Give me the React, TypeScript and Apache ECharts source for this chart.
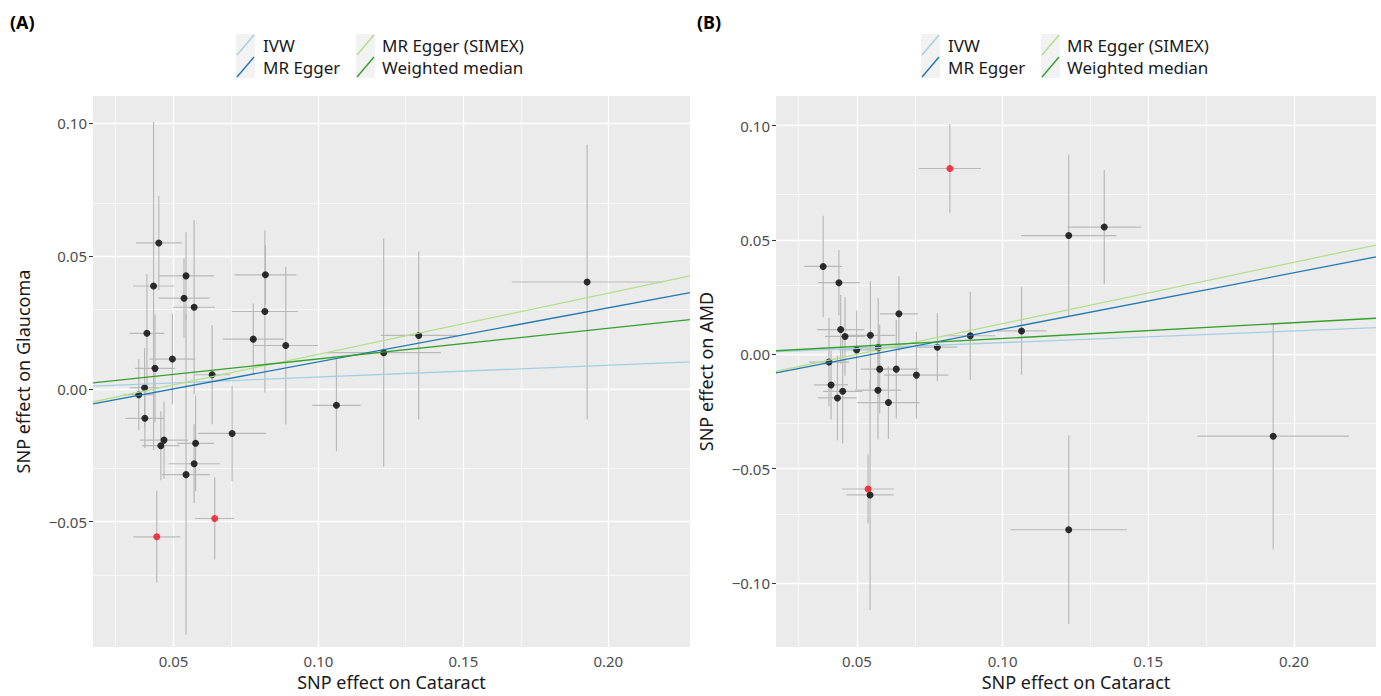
import React, { useEffect, useRef } from "react";
import * as echarts from "echarts";

const methods = ["IVW", "MR Egger", "MR Egger (SIMEX)", "Weighted median"];
const methodColors = ["#A6CEE3", "#1F78B4", "#B2DF8A", "#33A02C"];

const xTicks = [0.05, 0.1, 0.15, 0.2];
const xMinorTicks = [0.025, 0.075, 0.125, 0.175, 0.225];
const yTicksA = [-0.05, 0, 0.05, 0.1];
const yMinorTicksA = [-0.075, -0.025, 0.025, 0.075];
const yTicksB = [-0.1, -0.05, 0, 0.05, 0.1];
const yMinorTicksB = [-0.125, -0.075, -0.025, 0.025, 0.075];

const X_RANGE = [0.0222, 0.2282];
const Y_RANGE_A = [-0.0972, 0.1102];
const Y_RANGE_B = [-0.128, 0.1129];

// Panel A: Cataract -> Glaucoma
const cataractA = [0.0449, 0.0431, 0.0543, 0.0536, 0.0571, 0.0817, 0.0815, 0.0887, 0.0775, 0.0408, 0.0496, 0.0436, 0.0633, 0.04, 0.038, 0.0401, 0.1062, 0.0702, 0.0467, 0.0456, 0.0576, 0.0571, 0.0543, 0.0442, 0.0642, 0.1225, 0.1346, 0.1927];
const glaucoma = [0.0549, 0.0387, 0.0425, 0.0341, 0.0307, 0.0429, 0.0291, 0.0163, 0.0187, 0.0209, 0.0112, 0.0077, 0.0053, 0.0004, -0.0022, -0.0111, -0.0062, -0.0168, -0.0193, -0.0214, -0.0205, -0.0282, -0.0323, -0.0557, -0.0488, 0.0136, 0.0201, 0.0402];
const seCataractA = [0.0079, 0.0071, 0.0096, 0.0088, 0.0072, 0.0107, 0.0114, 0.0112, 0.0105, 0.006, 0.0079, 0.0069, 0.0062, 0.0052, 0.0052, 0.0067, 0.0083, 0.0117, 0.0083, 0.0065, 0.0064, 0.0089, 0.0083, 0.0081, 0.0067, 0.0197, 0.0131, 0.026];
const seGlaucoma = [0.0178, 0.0617, 0.0164, 0.0149, 0.0327, 0.0112, 0.0305, 0.0297, 0.0134, 0.0223, 0.0171, 0.0204, 0.0186, 0.0149, 0.0134, 0.0112, 0.0173, 0.018, 0.0145, 0.013, 0.018, 0.0149, 0.0602, 0.0173, 0.0154, 0.0429, 0.0316, 0.0517];
const outlierA = [0, 0, 0, 0, 0, 0, 0, 0, 0, 0, 0, 0, 0, 0, 0, 0, 0, 0, 0, 0, 0, 0, 0, 1, 1, 0, 0, 0];
const interceptA = [0, -0.0102, -0.01, -0.0003];
const slopeA = [0.0443, 0.2034, 0.23, 0.1155];

// Panel B: Cataract -> AMD
const cataractB = [0.0819, 0.0384, 0.0438, 0.0644, 0.0444, 0.0459, 0.0546, 0.0889, 0.1065, 0.0499, 0.0573, 0.0404, 0.0776, 0.0578, 0.0635, 0.0704, 0.0411, 0.0451, 0.0433, 0.0572, 0.0608, 0.0538, 0.0545, 0.1227, 0.1349, 0.1929, 0.1227];
const amd = [0.0812, 0.0384, 0.0313, 0.0177, 0.0108, 0.0078, 0.0083, 0.0081, 0.0102, 0.0019, 0.0029, -0.0034, 0.0031, -0.0065, -0.0065, -0.0091, -0.0134, -0.0162, -0.0191, -0.0157, -0.0211, -0.0589, -0.0615, 0.0519, 0.0556, -0.0358, -0.0767];
const seCataractB = [0.0107, 0.0065, 0.0071, 0.0065, 0.0081, 0.0069, 0.0086, 0.0086, 0.0086, 0.0062, 0.0086, 0.0069, 0.0069, 0.0065, 0.0076, 0.011, 0.0058, 0.0067, 0.0067, 0.0079, 0.0107, 0.0089, 0.0081, 0.0163, 0.0127, 0.026, 0.02];
const seAmd = [0.0194, 0.0222, 0.0142, 0.0164, 0.0151, 0.0172, 0.0237, 0.0192, 0.0192, 0.0172, 0.0216, 0.0194, 0.0149, 0.0194, 0.0216, 0.019, 0.0151, 0.0228, 0.0185, 0.0216, 0.0159, 0.0151, 0.0504, 0.0353, 0.025, 0.0494, 0.0412];
const outlierB = [1, 0, 0, 0, 0, 0, 0, 0, 0, 0, 0, 0, 0, 0, 0, 0, 0, 0, 0, 0, 0, 1, 0, 0, 0, 0, 0];
const interceptB = [0, -0.0136, -0.0134, 0];
const slopeB = [0.051, 0.246, 0.268, 0.069];

const FONT = "'Noto Sans', 'DejaVu Sans', sans-serif";

const fmt = (v: number) => (v < 0 ? "\u2212" + Math.abs(v).toFixed(2) : v.toFixed(2));

type Panel = {
  xs: number[]; ys: number[]; sx: number[]; sy: number[]; out: number[];
  a: number[]; b: number[]; yTicks: number[]; yMinor: number[]; yRange: number[]; yName: string;
};

const panels: Panel[] = [
  { xs: cataractA, ys: glaucoma, sx: seCataractA, sy: seGlaucoma, out: outlierA, a: interceptA, b: slopeA, yTicks: yTicksA, yMinor: yMinorTicksA, yRange: Y_RANGE_A, yName: "SNP effect on Glaucoma" },
  { xs: cataractB, ys: amd, sx: seCataractB, sy: seAmd, out: outlierB, a: interceptB, b: slopeB, yTicks: yTicksB, yMinor: yMinorTicksB, yRange: Y_RANGE_B, yName: "SNP effect on AMD" },
];

const gridLayout = [
  { left: 93, top: 96, width: 597, height: 557 },
  { left: 776, top: 96, width: 600, height: 557 },
];
const legendOffset = [0, 685];

function buildOption() {
  const grid = gridLayout.map((g) => ({ ...g, show: true, backgroundColor: "#EBEBEB", borderWidth: 0, containLabel: false }));
  const xAxis = panels.map((p, i) => ({
    type: "value", gridIndex: i, min: X_RANGE[0], max: X_RANGE[1],
    name: "SNP effect on Cataract", nameLocation: "middle", nameGap: 24,
    nameTextStyle: { fontSize: 18, color: "#1a1a1a", fontFamily: FONT },
    axisLine: { show: false },
    axisTick: { show: true, customValues: xTicks, length: 4, lineStyle: { color: "#333", width: 1 } },
    axisLabel: { customValues: xTicks, formatter: fmt, fontSize: 15, color: "#4D4D4D", margin: 6, fontFamily: FONT },
    splitLine: { show: false },
  }));
  const yAxis = panels.map((p, i) => ({
    type: "value", gridIndex: i, min: p.yRange[0], max: p.yRange[1],
    name: p.yName, nameLocation: "middle", nameGap: 61,
    nameTextStyle: { fontSize: 18, color: "#1a1a1a", fontFamily: FONT },
    axisLine: { show: false },
    axisTick: { show: true, customValues: p.yTicks, length: 4, lineStyle: { color: "#333", width: 1 } },
    axisLabel: { customValues: p.yTicks, formatter: fmt, fontSize: 15, color: "#4D4D4D", margin: 6, fontFamily: FONT },
    splitLine: { show: false },
  }));

  const series: any[] = [];
  panels.forEach((p, i) => {
    const major = "#FFFFFF";
    const gridLines = [
      ...xTicks.map((v) => ({ xAxis: v, lineStyle: { color: major, width: 1.3, type: "solid" } })),
      ...xMinorTicks.map((v) => ({ xAxis: v, lineStyle: { color: major, width: 0.6, type: "solid" } })),
      ...p.yTicks.map((v) => ({ yAxis: v, lineStyle: { color: major, width: 1.3, type: "solid" } })),
      ...p.yMinor.map((v) => ({ yAxis: v, lineStyle: { color: major, width: 0.6, type: "solid" } })),
    ];
    series.push({
      type: "line", xAxisIndex: i, yAxisIndex: i, data: [], silent: true, z: 1,
      markLine: { silent: true, z: 1, symbol: ["none", "none"], label: { show: false }, emphasis: { disabled: true }, data: gridLines },
    });
    const errData = p.xs.map((x, k) => [x, p.ys[k], p.sx[k], p.sy[k]]);
    series.push({
      type: "custom", xAxisIndex: i, yAxisIndex: i, z: 2, silent: true, clip: true,
      encode: { x: 0, y: 1 },
      data: errData,
      renderItem: (params: any, api: any) => {
        const x = api.value(0), y = api.value(1), hx = api.value(2), hy = api.value(3);
        const l = api.coord([x - hx, y]);
        const r = api.coord([x + hx, y]);
        const t = api.coord([x, y + hy]);
        const b = api.coord([x, y - hy]);
        const style = { stroke: "#B9B9B9", lineWidth: 1.2, fill: null };
        return {
          type: "group",
          children: [
            { type: "line", shape: { x1: l[0], y1: l[1], x2: r[0], y2: r[1] }, style },
            { type: "line", shape: { x1: t[0], y1: t[1], x2: b[0], y2: b[1] }, style },
          ],
        };
      },
    });
    series.push({
      type: "scatter", xAxisIndex: i, yAxisIndex: i, z: 3, symbolSize: 7, silent: true,
      itemStyle: { color: "#000000" },
      data: p.xs.map((x, k) => [x, p.ys[k]]).filter((_, k) => !p.out[k]),
    });
    series.push({
      type: "scatter", xAxisIndex: i, yAxisIndex: i, z: 3, symbolSize: 7, silent: true,
      itemStyle: { color: "#F5101A" },
      data: p.xs.map((x, k) => [x, p.ys[k]]).filter((_, k) => !!p.out[k]),
    });
    methods.forEach((m, j) => {
      series.push({
        type: "line", name: m, xAxisIndex: i, yAxisIndex: i, z: 4, silent: true,
        showSymbol: false, symbol: "none",
        lineStyle: { color: methodColors[j], width: 1.3 },
        data: X_RANGE.map((x) => [x, p.a[j] + p.b[j] * x]),
      });
    });
  });

  const graphic: any[] = [
    { type: "text", x: 10, y: 22, style: { text: "(A)", font: `bold 18px ${FONT}`, fill: "#000", verticalAlign: "middle" } },
    { type: "text", x: 697, y: 22, style: { text: "(B)", font: `bold 18px ${FONT}`, fill: "#000", verticalAlign: "middle" } },
  ];
  const keyX = [236, 356];
  const textX = [263, 382];
  const keyY = [34, 56];
  const textY = [45, 67];
  legendOffset.forEach((dx) => {
    methods.forEach((m, j) => {
      const col = Math.floor(j / 2);
      const row = j % 2;
      const kx = keyX[col] + dx;
      const ky = keyY[row];
      graphic.push({ type: "rect", shape: { x: kx, y: ky, width: 19, height: 22 }, style: { fill: "#F2F2F2" } });
      graphic.push({ type: "line", shape: { x1: kx + 1, y1: ky + 21, x2: kx + 18, y2: ky + 1 }, style: { stroke: methodColors[j], lineWidth: 1.4 } });
      graphic.push({ type: "text", x: textX[col] + dx, y: textY[row], style: { text: m, font: `17px ${FONT}`, fill: "#1a1a1a", verticalAlign: "middle" } });
    });
  });

  return {
    animation: false,
    backgroundColor: "#FFFFFF",
    textStyle: { fontFamily: FONT },
    grid, xAxis, yAxis, series, graphic,
  };
}

export default function App() {
  const ref = useRef<HTMLDivElement>(null);
  useEffect(() => {
    document.body.style.margin = "0";
    const chart = echarts.init(ref.current as HTMLDivElement, null, { renderer: "svg" });
    chart.setOption(buildOption() as any);
    return () => chart.dispose();
  }, []);
  return <div ref={ref} style={{ width: 1381, height: 696 }} />;
}
